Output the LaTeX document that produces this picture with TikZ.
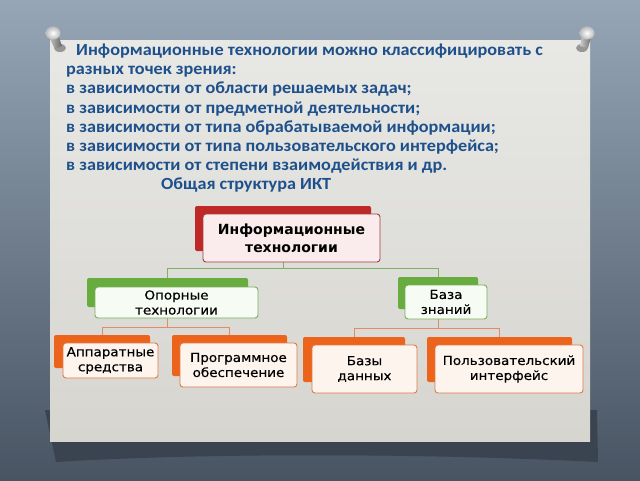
\documentclass[tikz,border=0pt]{standalone}
\usepackage{fontspec}
\setmainfont{Carlito}[FakeStretch=1.07]
\newfontfamily\boxfont{DejaVu Sans}[FakeStretch=1.08, FakeBold=0.4]
\newfontfamily\topfont{DejaVu Sans}
\pgfdeclarelayer{bg}
\pgfdeclarelayer{back}
\pgfsetlayers{bg,back,main}
\definecolor{bgtop}{RGB}{150,166,182}
\definecolor{bgbot}{RGB}{72,84,98}
\definecolor{papertop}{RGB}{232,232,229}
\definecolor{paperbot}{RGB}{214,213,208}
\definecolor{shadowc}{RGB}{58,68,80}
\definecolor{textblue}{RGB}{30,80,140}
\definecolor{redback}{RGB}{190,40,38}
\definecolor{redline}{RGB}{165,60,58}
\definecolor{redfill}{RGB}{250,236,236}
\definecolor{greenback}{RGB}{104,172,64}
\definecolor{greenline}{RGB}{120,176,92}
\definecolor{greenfill}{RGB}{246,251,243}
\definecolor{orangeback}{RGB}{236,100,28}
\definecolor{orangeline}{RGB}{226,120,70}
\definecolor{orangefill}{RGB}{253,244,238}
\definecolor{connG}{RGB}{128,178,100}
\definecolor{connO}{RGB}{225,140,100}
\tikzset{
  txt/.style={anchor=base west, inner sep=0pt, text=textblue, font=\fontsize{17}{20}\selectfont\bfseries},
  backbox/.style={rectangle, rounded corners=2pt, inner sep=0pt, outer sep=0pt, fill=#1},
  frontbox/.style={rectangle, rounded corners=3pt, inner sep=0pt, outer sep=0pt, line width=0.9pt, align=center, text=black},
  redfront/.style={frontbox, draw=redline, fill=redfill, font=\topfont\bfseries\fontsize{14}{18}\selectfont},
  greenfront/.style={frontbox, draw=greenline, fill=greenfill, font=\boxfont\fontsize{12.5}{15}\selectfont},
  orangefront/.style={frontbox, draw=orangeline, fill=orangefill, font=\boxfont\fontsize{12.5}{15}\selectfont},
  gconn/.style={draw=connG, line width=1pt},
  oconn/.style={draw=connO, line width=1pt},
}
\begin{document}
\begin{tikzpicture}[x=1pt,y=-1pt]
\useasboundingbox (0,0) rectangle (640,480);
\begin{pgfonlayer}{bg}
  \shade[top color=bgtop, bottom color=bgbot] (0,0) rectangle (640,480);
  % shadow under the paper
  \fill[shadowc] (45,410) -- (597,410) -- (598,462)
     .. controls (420,453) and (200,453) .. (56,462) -- cycle;
  % paper
  \shade[top color=papertop, bottom color=paperbot] (50,40) rectangle (590,441);
  % pins
  \fill[black, opacity=0.35] (60,48) ellipse (6 and 4);
  \shade[left color=gray!40, right color=gray!80!black] (48,35) -- (57,31) -- (62,46) -- (55,49) -- cycle;
  \shade[inner color=white, outer color=gray!55] (53,33) ellipse (7.5 and 6.5);
  \fill[black, opacity=0.35] (582,48) ellipse (6 and 4);
  \shade[left color=gray!40, right color=gray!80!black] (583,32) -- (592,34) -- (588,48) -- (580,46) -- cycle;
  \shade[inner color=white, outer color=gray!55] (587,33) ellipse (7.5 and 6.5);
\end{pgfonlayer}

% heading text
\node[txt] (l1) at (76,55) {Информационные технологии можно классифицировать с};
\node[txt] (l2) at (66,74) {разных точек зрения:};
\node[txt] (l3) at (66,93) {в зависимости от области решаемых задач;};
\node[txt] (l4) at (66,113) {в зависимости от предметной деятельности;};
\node[txt] (l5) at (66,132) {в зависимости от типа обрабатываемой информации;};
\node[txt] (l6) at (66,151) {в зависимости от типа пользовательского интерфейса;};
\node[txt] (l7) at (66,170) {в зависимости от степени взаимодействия и др.};
\node[txt] (l8) at (161,189) {Общая структура ИКТ};

% back boxes
\begin{pgfonlayer}{back}
  \node[backbox=redback, minimum width=176pt, minimum height=45pt] (topB) at (283,228.5) {};
  \node[backbox=greenback, minimum width=161pt, minimum height=29pt] (opB) at (167.5,292.5) {};
  \node[backbox=greenback, minimum width=80pt, minimum height=32pt] (bzB) at (438,293) {};
  \node[backbox=orangeback, minimum width=96pt, minimum height=33pt] (apB) at (102,351.5) {};
  \node[backbox=orangeback, minimum width=115pt, minimum height=41pt] (prB) at (229.5,355.5) {};
  \node[backbox=orangeback, minimum width=102pt, minimum height=45pt] (bdB) at (354,359.5) {};
  \node[backbox=orangeback, minimum width=145pt, minimum height=45pt] (puB) at (499.5,359.5) {};
  \coordinate (j1) at (283,268);
  \coordinate (j2) at (167.5,327);
  \coordinate (j3) at (438,328);
  \draw[gconn] (topB.south) -- (j1) -| (opB.north);
  \draw[gconn] (j1) -| (bzB.north);
  \draw[oconn] (opB.south) -- (j2) -| (apB.north);
  \draw[oconn] (j2) -| (prB.north);
  \draw[oconn] (bzB.south) -- (j3) -| (bdB.north);
  \draw[oconn] (j3) -| (puB.north);
\end{pgfonlayer}

% front boxes
\node[redfront, minimum width=177pt, minimum height=48pt] (top) at (291.5,238) {Информационные\\технологии};
\node[greenfront, minimum width=163pt, minimum height=31pt] (op) at (176.5,302.5) {Опорные\\технологии};
\node[greenfront, minimum width=82pt, minimum height=34pt] (bz) at (446,302) {База\\знаний};
\node[orangefront, minimum width=95pt, minimum height=35pt] (ap) at (110.5,360.5) {Аппаратные\\средства};
\node[orangefront, minimum width=117pt, minimum height=44pt] (pr) at (238.5,365) {Программное\\обеспечение};
\node[orangefront, minimum width=105pt, minimum height=48pt] (bd) at (364.5,369) {Базы\\данных};
\node[orangefront, minimum width=148pt, minimum height=48pt] (pu) at (509,369) {Пользовательский\\интерфейс};
\end{tikzpicture}
\end{document}
